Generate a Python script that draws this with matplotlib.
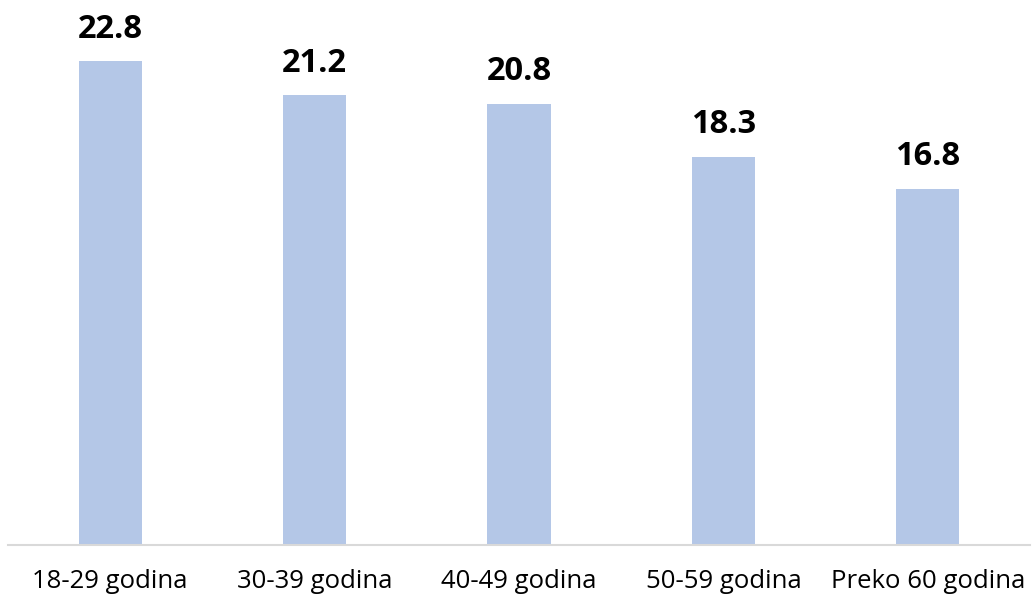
import matplotlib
matplotlib.use("Agg")
import matplotlib.pyplot as plt

categories = ["18-29 godina", "30-39 godina", "40-49 godina", "50-59 godina", "Preko 60 godina"]
values = [22.8, 21.2, 20.8, 18.3, 16.8]

plt.rcParams['font.family'] = ['Open Sans', 'DejaVu Sans']

fig = plt.figure(figsize=(10.32, 6.04), dpi=100)
ax = fig.add_axes([8 / 1032, 59 / 604, 1022 / 1032, 545 / 604])

x = range(len(categories))
ax.bar(x, values, width=0.31, color="#B4C7E7", zorder=2)
for xi, v in zip(x, values):
    ax.text(xi, v + 0.75, f"{v:.1f}", ha="center", va="bottom",
            fontsize=23.5, fontweight="bold", color="black")

ax.set_xlim(-0.5, len(categories) - 0.5)
ax.set_ylim(0, 25.7)
ax.set_xticks(list(x))
ax.set_xticklabels(categories, fontsize=18.5, color="black")
ax.tick_params(axis="x", length=0, pad=17.5)
ax.set_yticks([])
for side in ["top", "right", "left"]:
    ax.spines[side].set_visible(False)
ax.spines["bottom"].set_color("#D9D9D9")
ax.spines["bottom"].set_linewidth(1.5)

fig.savefig("out.png", dpi=100)
